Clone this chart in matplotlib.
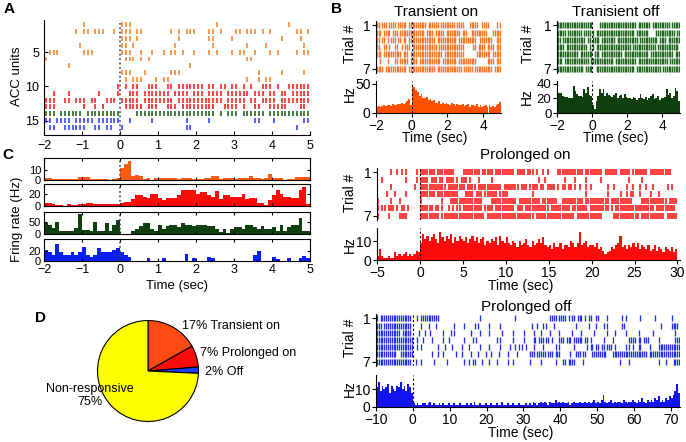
import matplotlib.pyplot as plt
import numpy as np

plt.rcParams['font.family'] = ['Liberation Sans', 'DejaVu Sans']
plt.rcParams['axes.linewidth'] = 0.8

W, H = 686, 442

# ---------------------------------------------------------------- data
# Panel A raster, 16 ACC units, -2..5 s, one char = 0.1 s ('|' = spike)
A_ROWS = [
    ".......... |......... |||....... .......... .....|.... .......... ....|.....",
    "........|. ||.|||..|. |||.||.... ...|.|.||| ...||.|... ||.|||.|.| ......||.|",
    ".......... .......... |||.|..... .....|.... ...||....| .......... ..|....|..",
    ".........| .......... ||.|...... ....|..... ....|..... ...|....|. ........|.",
    ".|||...... |||....... |||..|..|. .|.||.|..| ...|.|...| .||..|...| .|....|.||",
    "|......... .......... .|||.|.|.. .......... .......... ...||..... ..........",
    "......|... .......... .......... ........|. .......... .......... ..........",
    ".......... .......... |||...|... ...|||.... .......... ......|... ..|.....|.",
    ".......... .......... .|.|||...| .||....... .......... ...|..|.|| ..........",
    ".......... .........| .|.||..||| ..||.||||| ||.||.||.| |.|.|..||| .|..||||||",
    "..|...|... ....|....| ..|||.|||| |||.||||.| ||.||||.|| ||||.|||.| |.||.|||||",
    "|||..||.|| |.||..|||. |||||.|||| ||||.||||| |||||||.|| |||.||.||| |.||||||||",
    "|||....... |..|.|.... .|||||.||| ..|||.|||| |||||..||| |.|..||..| ||||...||.",
    "|||.|||||| .||||||||| ....|||||| |||||||||| |||||.|.|| |.||||||.| ||||||||||",
    "||.||||.|| |||.|||||| ..|.....|. .......|.. ...|...... .....||... |.......||",
    ".||..||||| |..||.||.. |......... .......||. .......... .......... ......|...",
]
A_COLORS = ['#f2822e'] * 9 + ['#ff1a1a'] * 4 + ['#1e5e1e'] + ['#2a3cff'] * 2

# Panel C PSTHs, -2..5 s, 0.1 s bins
C_ORANGE = [2.5, 2.5, 1, 1, 1, 1, 1, 1, 1, 3,
            3, 3.5, 1, 1, 1, 1, 1, 0, 1, 2,
            12, 16, 19.5, 4, 5, 4, 1, 2, 0, 2.5,
            2.5, 2, 2.5, 2, 2, 1, 2, 2, 2, 1,
            1, 1, 2, 2, 4.5, 4.5, 1, 2, 2, 2,
            1, 2.5, 2.5, 2, 4.5, 2, 2, 1, 2, 6,
            2, 2, 2, 0, 1, 1, 3, 3, 3, 3]
C_RED = [5, 5, 3, 2, 2, 0, 3, 2, 2, 4,
         4, 5, 5, 4, 3, 3, 3, 3, 3, 3,
         5, 7, 7, 12, 18, 18, 15, 13, 20, 20,
         13, 10, 13, 13, 13, 18, 26, 26, 27, 27,
         20, 23, 23, 18, 15, 24, 12, 18, 18, 15,
         15, 15, 20, 12, 13, 13, 5, 5, 2, 10,
         18, 26, 19, 15, 15, 13, 13, 26, 31, 4]
C_GREEN = [48, 38, 26, 51, 15, 15, 15, 15, 26, 85,
           19, 19, 12, 51, 15, 15, 48, 15, 38, 62,
           0, 0, 0, 15, 23, 34, 48, 48, 23, 15,
           41, 23, 34, 38, 38, 29, 48, 41, 41, 34,
           38, 38, 38, 34, 34, 23, 9, 23, 4, 23,
           29, 29, 23, 38, 38, 29, 23, 34, 23, 23,
           29, 15, 38, 15, 29, 41, 41, 70, 15, 15]
C_BLUE = [21, 17, 11, 33, 17, 11, 11, 17, 11, 17,
          27, 11, 8, 11, 24, 17, 17, 17, 21, 24,
          18, 11, 8, 0, 0, 0, 0, 5, 0, 0,
          0, 5, 0, 0, 0, 0, 0, 14, 0, 5,
          0, 0, 0, 8, 5, 0, 0, 0, 0, 0,
          0, 0, 0, 0, 0, 11, 19, 0, 0, 0,
          8, 4, 0, 0, 5, 0, 0, 5, 9, 5]

# Panel D
PIE_VALUES = [17, 7, 2, 75]
PIE_COLORS = ['#ff4a12', '#ff0a0a', '#1f3bff', '#ffff00']

# Panel B, transient on (-2..5 s, 0.1 s per char / bin)
TON_ROWS = [
    "||.|||.||| |.|||||.|| ||||||||.| |||||.|||| ||||.||||. ..|||||..| |||....|.|",
    "|||.||||.| ||.||||||| |||||||.|| ||.|||||.| |||||||.|| |..||||||| ||...|||||",
    "||.||.|.|| |.||.||.|| |||||||||| |||.|||||| |||||.|||| ||||||..|| |||||..|||",
    "||..||.|.. ||..|.|||. |||||||||| ||||.||||| |||||||||. ....||.||| |.||||.|||",
    "|||.|||||| ||||.|||.| |||||||||| |||||||.|| |||||||||. ......|||| ||||.|||||",
    "..|...|... ||.|||||.| |||.|||||| ||||||.||| |||||.|||| ||||||.... ..||||.|||",
    "||||.||||| |||||||.|| |||||||||| |||.|||||| ||||||||.| ||||.||||| |||||.||||",
]
TON_HIST = [10, 12, 11, 12, 13, 12, 14, 13, 12, 15,
            14, 13, 16, 15, 17, 15, 18, 20, 24, 14,
            47, 44, 40, 36, 30, 33, 26, 25, 28, 22,
            24, 20, 22, 18, 17, 20, 16, 18, 15, 17,
            16, 14, 18, 15, 12, 16, 14, 13, 15, 12,
            13, 15, 11, 14, 13, 12, 15, 11, 13, 10,
            12, 14, 10, 13, 11, 12, 10, 14, 16, 19]

# Panel B, transient off (-2..5 s)
TOFF_ROWS = [
    "|||||||||| |||||||||| ....|||||| |||||||||| |||||.|||| |||.|||||| ||||.|||||",
    "|||||.|||| ||||.||||. |.|||||||| |||||||||| ||||.||||| ||....|||| |||||||.||",
    "||.||||||| ||||||.||. ||||.||||| |||.|||||| ||||||.||| |||||||.|| ||.|||||||",
    "||||.||||| |||||||.|. |.|||||||| |||||||||| ||.||||||| ||||||.||| |||||||||.",
    "|||||||||| ||.||||||| .|||.||||| |||||||.|| |||||||||| ||.||||||| ||||||.|||",
    "|||.|||||| ||||||||.| |||||||||| ||.||||||| |||||.|||| |||||||||| |||.||||||",
    "|||||||||| |||||.|||| ..|||||||| |||||||||| ||||.||||| |||||||||. ||||||||||",
]
TOFF_HIST = [28, 27, 27, 24, 22, 22, 20, 20, 21, 37,
             30, 26, 24, 23, 22, 33, 28, 36, 25, 24,
             11, 5, 17, 24, 33, 27, 33, 24, 27, 25,
             24, 22, 25, 28, 21, 24, 25, 20, 26, 22,
             20, 21, 19, 22, 20, 18, 21, 26, 20, 19,
             22, 18, 21, 23, 26, 19, 20, 24, 18, 21,
             20, 22, 33, 25, 27, 21, 23, 35, 30, 16]

# Panel B, prolonged on (-5..30 s, 0.25 s per char / bin)
PON_ROWS = [
    "......|..|.|.|....|. |||||||.||||||||.... ||||||||.|||||.||||| ||||.||||.|||.|..|.| ....||||||||||||.||| |||||.||||||.|||||.| ||||||.||||||||||...",
    "..|..........|....|. ||||.|||.||.||||.|.| ||.|...|.....|...... ...............|..|. .......|....|....|.. ....|............|.. ...|................",
    "......|..........|.. ||||||||||||.||||||| |.||||.|||||||||||.| ||||||.|||.||||.||.| |||.|.||.||.|.|..|.| .......|..|.....|..| ..|..|..|......|.|..",
    "....|...|....|...... |||||||.||||||||||.. .||||.|||.||||||.||| |...........|....... .................|.. .......|.....|..|.|| ..|....|...|........",
    "|.....|...|......... |.........|...|||||| |||||||||....||||||| |||||.||||||||||.||| ||||..||||||||||.||| ||||||||.||||||||||. ...||||||||||||.||||",
    "|.||.|||.|.||.|..... ||||||.||.|..|.|.||. |||||||||.||||.||||| ||||.|||.||||||||||| .|||||||||.|||||||.| ||||||||.|.||||||||| |||||||||.|||||||||.",
    "|....|....||||...... |||||||||.|||||||||| ||||||||||.||||||||| |||||||||||||.|||||| ||||||||||||.||||||| |||||.....|||||||||| ||.|||||||||||.|||||",
]
PON_HIST = [2, 6, 2, 1, 1, 2, 1, 1, 4, 2, 3, 2, 3, 4, 2, 3, 2, 3, 5, 4,
            9, 14, 11, 13, 10, 12, 14, 11, 9, 15, 12, 10, 13, 11, 14, 9, 12, 10, 13, 11,
            10, 12, 9, 11, 13, 10, 12, 9, 11, 12, 8, 10, 9, 11, 10, 12, 8, 13, 10, 9,
            12, 9, 8, 10, 9, 7, 10, 8, 9, 11, 8, 7, 10, 8, 9, 11, 9, 12, 8, 7,
            8, 6, 9, 7, 7, 9, 6, 8, 8, 7, 10, 9, 7, 9, 15, 8, 9, 10, 7, 8,
            8, 7, 9, 6, 7, 5, 3, 4, 5, 7, 6, 8, 9, 13, 7, 8, 6, 8, 7, 9,
            7, 9, 6, 8, 7, 6, 8, 5, 6, 8, 5, 7, 6, 4, 7, 6, 5, 7, 4, 6]

# Panel B, prolonged off (-10..72.5 s, 0.5 s per char / bin)
POFF_ROWS = [
    "|.|||||||| |||||||||. ..|.|||||| ||||...... .......... ......|... .......... .....|.... .......... ....||||.| |||.|.||.| ||.|.||..| |....|.... ...|.|.... ...|...... .|........ |....",
    "|||.|||||| |||||||||. ....|...|. ..|....... ..|....|.. ...|.|.... .|.....|.. .......... ....|..|.. |.|...|... ........|. .....|...| ...|.|.... ...||..... .......... ....|..... ||||.",
    "|||||||||| |||.|||||. ...|..|..| ......|... |.|....... .|....|... .|......|. ....|..... |....|...| ....|....| ......|... .|......|. .....|...| .....|.... ..|....... |......... ..|..",
    "|||||||||| |||||||||| ..|..|.... |.....|..| .......|.. ..|.|..... .....|.|.. ....|..... |....||.|| |.||.|...| ||.|||.||| ||.||.|... ...|....|. .......||| |.||.|||.. ...|...... ..|||",
    "|||||||||| |||||||||| ..|.|..... ...|...|.. .|....|... |.....|... .|.....|.. ..|..|.|.| .|...|.... |......|.| .......|.. ....|.||.| |.||.|||.| .....|.|.| ..||....|. ...||||||| |||||",
    "|||||||||| |..||||||| .......... |..|..|... ...|..|... .|...|...| ..|...|... .|....|... ...|||.||| ||.|||.||| .....|..|| |.||...||| |||||...|| |||||||||| |||||||.|| |||||||||| |||||",
    "|||||||||| |||||||||. .|..|..... .|......|. .......|.. |.||...|.. .|...|.... .|..|..... ...|.....| .......|.. .||.||||.. ..|....... .......... ..|....|.. .......... ...|...|.. .||||",
]
POFF_HIST = [11, 14, 9, 12, 10, 11, 13, 8, 12, 10,
             9, 12, 11, 14, 10, 12, 9, 13, 11, 8,
             2, 1, 2, 1, 1, 2, 2, 1, 2, 3,
             1, 2, 1, 1, 2, 1, 2, 1, 1, 2,
             1, 1, 2, 1, 1, 2, 1, 1, 1, 2,
             1, 2, 1, 3, 1, 1, 2, 1, 1, 2,
             1, 1, 2, 1, 1, 2, 1, 1, 3, 1,
             1, 2, 1, 1, 2, 1, 1, 2, 1, 1,
             1, 2, 1, 2, 1, 3, 2, 1, 2, 3,
             2, 3, 2, 1, 3, 2, 2, 4, 2, 3,
             2, 3, 2, 2, 3, 1, 2, 3, 2, 2,
             3, 2, 2, 3, 2, 3, 2, 3, 4, 2,
             3, 2, 4, 7, 3, 2, 3, 4, 2, 3,
             2, 3, 3, 2, 4, 3, 2, 3, 3, 4,
             3, 2, 4, 3, 5, 3, 2, 4, 3, 4,
             3, 5, 4, 6, 3, 4, 3, 5, 4, 6,
             5, 7, 9, 13, 8]


# ---------------------------------------------------------------- helpers
def box(left, top, width, height):
    return [left / W, 1 - (top + height) / H, width / W, height / H]


def spike_times(row, t0, t1):
    s = row.replace(' ', '')
    dt = (t1 - t0) / len(s)
    return [t0 + (j + 0.5) * dt for j, c in enumerate(s) if c == '|']


def draw_raster(ax, rows, t0, t1, colors, lw, half=0.38):
    for i, row in enumerate(rows):
        ax.vlines(spike_times(row, t0, t1), i + 1 - half, i + 1 + half,
                  color=colors[i], lw=lw)
    ax.set_xlim(t0, t1)


def draw_hist(ax, vals, t0, t1, color):
    edges = np.linspace(t0, t1, len(vals) + 1)
    ax.bar(edges[:-1], vals, width=edges[1] - edges[0], align='edge',
           color=color, lw=0)
    ax.set_xlim(t0, t1)


def b_raster(ax, rows, t0, t1, color, lw):
    draw_raster(ax, rows, t0, t1, [color] * 7, lw, half=0.42)
    ax.set_ylim(7.6, 0.4)
    ax.set_yticks([1, 7])
    ax.set_xticks([])
    for sp in ('top', 'right', 'bottom'):
        ax.spines[sp].set_visible(False)
    ax.tick_params(direction='out', length=3, labelsize=10, pad=1)
    ax.axvline(0, color='k', ls=(0, (2, 2)), lw=0.8)


def b_hist(ax, vals, t0, t1, color, ymax, yticks, xticks):
    draw_hist(ax, vals, t0, t1, color)
    ax.set_ylim(0, ymax)
    ax.set_yticks(yticks)
    ax.set_xticks(xticks)
    ax.spines['top'].set_visible(False)
    ax.spines['right'].set_visible(False)
    ax.tick_params(direction='out', length=3, labelsize=10, pad=1)
    ax.axvline(0, color='k', ls=(0, (2, 2)), lw=0.8)


def side_label(x, y, text):
    fig.text(x / W, 1 - y / H, text, rotation=90, ha='center', va='center',
             fontsize=10)


def centre_label(x, y, text, size=10):
    fig.text(x / W, 1 - y / H, text, ha='center', va='center', fontsize=size)


fig = plt.figure(figsize=(W / 100, H / 100), dpi=100)

# ---------------------------------------------------------------- panel A
axa = fig.add_axes(box(44, 20, 266, 115))
draw_raster(axa, A_ROWS, -2, 5, A_COLORS, lw=1.15, half=0.36)
axa.set_ylim(17.1, 0.3)
axa.set_yticks([5, 10, 15])
axa.set_xticks(range(-2, 6))
axa.spines['top'].set_visible(False)
axa.spines['right'].set_visible(False)
axa.tick_params(direction='in', length=3, labelsize=9)
axa.axvline(0, color='#444444', ls=':', lw=1.2)
fig.text(17 / W, 1 - 76 / H, 'ACC units', rotation=90, ha='center',
         va='center', fontsize=9.5)

# ---------------------------------------------------------------- panel C
c_specs = [
    (C_ORANGE, '#ff5a14', 158, 22, 22, [0, 10]),
    (C_RED, '#ff0a0a', 184, 22, 36, [0, 20]),
    (C_GREEN, '#0f3f0f', 212, 22, 95, [0, 50]),
    (C_BLUE, '#0a1eff', 239, 22, 42, [0, 20]),
]
for i, (vals, col, top, hgt, ymax, yt) in enumerate(c_specs):
    ax = fig.add_axes(box(44, top, 266, hgt))
    draw_hist(ax, vals, -2, 5, col)
    ax.set_ylim(0, ymax)
    ax.set_yticks(yt)
    ax.set_xticks(range(-2, 6))
    ax.tick_params(direction='in', length=2.5, top=True, right=True,
                   labelsize=8, pad=2)
    if i < 3:
        ax.set_xticklabels([])
    else:
        ax.tick_params(axis='x', labelsize=9)
    ax.axvline(0, color='#444444', ls=':', lw=1.2)
fig.text(17 / W, 1 - 219 / H, 'Fring rate (Hz)', rotation=90, ha='center',
         va='center', fontsize=9.5)
centre_label(177, 286, 'Time (sec)', 9.5)

# ---------------------------------------------------------------- panel D
axd = fig.add_axes(box(97, 320, 102, 102))
axd.pie(PIE_VALUES, colors=PIE_COLORS, startangle=90, counterclock=False,
        wedgeprops=dict(edgecolor='k', linewidth=0.8))
axd.set_xlim(-1.01, 1.01)
axd.set_ylim(-1.01, 1.01)
axd.text(0.67, 0.90, '17% Transient on', fontsize=9, va='center',
         clip_on=False)
axd.text(1.03, 0.35, '7% Prolonged on', fontsize=9, va='center',
         clip_on=False)
axd.text(1.13, -0.02, '2% Off', fontsize=9, va='center', clip_on=False)
axd.text(-1.16, -0.49, 'Non-responsive\n75%', fontsize=9, ha='center',
         va='center', linespacing=1.1, clip_on=False)

# ---------------------------------------------------------------- panel B
ax = fig.add_axes(box(376, 21, 125, 52))
b_raster(ax, TON_ROWS, -2, 5, '#ff7424', 1.0)
ax = fig.add_axes(box(376, 81, 125, 32))
b_hist(ax, TON_HIST, -2, 5, '#ff5200', 55, [0, 50], [-2, 0, 2, 4])
centre_label(436, 12, 'Transient on', 11)
centre_label(435, 138, 'Time (sec)')
side_label(350, 44, 'Trial #')
side_label(350, 94, 'Hz')

ax = fig.add_axes(box(557, 21, 123, 52))
b_raster(ax, TOFF_ROWS, -2, 5, '#1f6a1f', 1.05)
ax = fig.add_axes(box(557, 81, 123, 32))
b_hist(ax, TOFF_HIST, -2, 5, '#0f3f0f', 44, [0, 20, 40], [-2, 0, 2, 4])
ax.tick_params(axis='y', labelsize=9.5)
centre_label(616, 12, 'Tranisient off', 11)
centre_label(616, 138, 'Time (sec)')
side_label(528, 44, 'Trial #')
side_label(527, 97, 'Hz')

ax = fig.add_axes(box(377, 168, 303, 52))
b_raster(ax, PON_ROWS, -5, 30, '#ff0a0a', 1.1)
ax.set_xlim(-5, 30.3)
ax = fig.add_axes(box(377, 228, 303, 32))
b_hist(ax, PON_HIST, -5, 30, '#ff0a0a', 17, [0, 10], range(-5, 31, 5))
ax.set_xlim(-5, 30.3)
centre_label(525, 155, 'Prolonged on', 11)
centre_label(521, 286, 'Time (sec)')
side_label(350, 193, 'Trial #')
side_label(350, 245, 'Hz')

ax = fig.add_axes(box(376, 314, 304, 52))
b_raster(ax, POFF_ROWS, -10, 72.5, '#1f2cf5', 0.95)
ax = fig.add_axes(box(376, 375, 304, 32))
b_hist(ax, POFF_HIST, -10, 72.5, '#1414f0', 18, [0, 10],
       range(-10, 71, 10))
centre_label(526, 307, 'Prolonged off', 11)
centre_label(521, 433, 'Time (sec)')
side_label(350, 338, 'Trial #')
side_label(350, 389, 'Hz')

# ---------------------------------------------------------------- letters
for letter, x, y in [('A', 9, 9), ('B', 337, 9), ('C', 8, 155),
                     ('D', 40, 318)]:
    fig.text(x / W, 1 - y / H, letter, ha='center', va='center',
             fontsize=11, fontweight='bold')

fig.savefig('out.png', dpi=100)
